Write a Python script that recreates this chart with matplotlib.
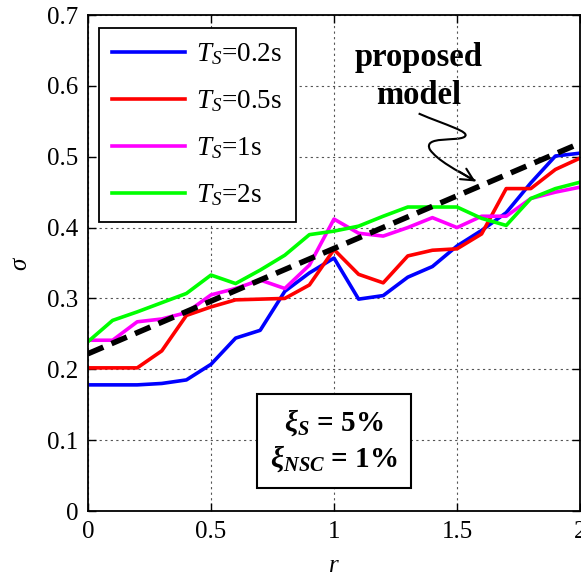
import numpy as np
import matplotlib.pyplot as plt
from matplotlib.path import Path
from matplotlib.patches import PathPatch

plt.rcParams['font.family'] = ['Liberation Serif', 'DejaVu Serif']
plt.rcParams['mathtext.fontset'] = 'custom'
plt.rcParams['mathtext.rm'] = 'Liberation Serif'
plt.rcParams['mathtext.it'] = 'Liberation Serif:italic'
plt.rcParams['mathtext.bf'] = 'Liberation Serif:bold'
plt.rcParams['mathtext.bfit'] = 'Liberation Serif:bold:italic'

# r values (0 to 2, step 0.1)
r = [0.0, 0.1, 0.2, 0.3, 0.4, 0.5, 0.6, 0.7, 0.8, 0.9, 1.0,
     1.1, 1.2, 1.3, 1.4, 1.5, 1.6, 1.7, 1.8, 1.9, 2.0]

sigma_02 = [0.178, 0.178, 0.178, 0.180, 0.185, 0.207, 0.244, 0.255, 0.310, 0.336, 0.357,
            0.299, 0.304, 0.330, 0.345, 0.374, 0.396, 0.421, 0.463, 0.501, 0.505]
sigma_05 = [0.202, 0.202, 0.202, 0.226, 0.276, 0.288, 0.298, 0.299, 0.300, 0.319, 0.369,
            0.334, 0.322, 0.360, 0.368, 0.370, 0.391, 0.455, 0.455, 0.482, 0.498]
sigma_1 = [0.241, 0.241, 0.267, 0.271, 0.280, 0.305, 0.314, 0.326, 0.314, 0.347, 0.412,
           0.392, 0.388, 0.400, 0.414, 0.400, 0.416, 0.416, 0.441, 0.450, 0.457]
sigma_2 = [0.239, 0.269, 0.281, 0.294, 0.307, 0.333, 0.321, 0.340, 0.361, 0.390, 0.395,
           0.402, 0.416, 0.429, 0.429, 0.429, 0.413, 0.403, 0.441, 0.455, 0.464]

# proposed model (straight line)
r_model = [0.0, 2.0]
sigma_model = [0.222, 0.519]

labels = [r'$T_S$=0.2s', r'$T_S$=0.5s', r'$T_S$=1s', r'$T_S$=2s']
colors = ['#0000FF', '#FF0000', '#FF00FF', '#00FF00']

fig = plt.figure(figsize=(5.81, 5.79), dpi=100)
ax = fig.add_axes([88 / 581, 68 / 579, 492 / 581, 496 / 579])

for s, lab, c in zip([sigma_02, sigma_05, sigma_1, sigma_2], labels, colors):
    ax.plot(r, s, color=c, lw=2.6, label=lab)
ax.plot(r_model, sigma_model, color='black', lw=4, ls=(0, (3, 1.6)))

ax.set_xlim(0, 2)
ax.set_ylim(0, 0.7)
ax.set_xticks([0, 0.5, 1, 1.5, 2])
ax.set_xticklabels(['0', '0.5', '1', '1.5', '2'])
ax.set_yticks(np.arange(0, 0.71, 0.1))
ax.set_yticklabels(['0', '0.1', '0.2', '0.3', '0.4', '0.5', '0.6', '0.7'])
ax.tick_params(direction='in', top=True, right=True, labelsize=18, length=6, width=1, pad=7)
ax.grid(True, ls=(0, (2, 3)), color='#555555', lw=0.8)
for sp in ax.spines.values():
    sp.set_linewidth(1.3)

ax.set_xlabel(r'$r$', fontsize=18, labelpad=9)
ax.set_ylabel(r'$\sigma$', fontsize=18, labelpad=11)

leg = ax.legend(loc='upper left', bbox_to_anchor=(0.022, 0.974), borderaxespad=0,
                fontsize=19.5, handlelength=2.7, handletextpad=0.4, labelspacing=0.78,
                fancybox=False, framealpha=1, edgecolor='black', borderpad=0.5)
leg.get_frame().set_linewidth(1.3)

ax.text(1.345, 0.613, 'proposed\nmodel', fontsize=23.5, fontweight='bold',
        ha='center', va='center', linespacing=1.3)

# squiggly pointer to the model line
verts = [(1.344, 0.561), (1.45, 0.545), (1.56, 0.535), (1.53, 0.528),
         (1.50, 0.521), (1.36, 0.530), (1.39, 0.510), (1.42, 0.495), (1.50, 0.480), (1.575, 0.466)]
codes = [Path.MOVETO, Path.CURVE4, Path.CURVE4, Path.CURVE4,
         Path.CURVE4, Path.CURVE4, Path.CURVE4, Path.CURVE4, Path.CURVE4, Path.CURVE4]
ax.add_patch(PathPatch(Path(verts, codes), fill=False, lw=1.5, color='black'))
ax.annotate('', xy=(1.585, 0.463), xytext=(1.50, 0.481),
            arrowprops=dict(arrowstyle='->', lw=1.5, color='black', mutation_scale=22))

ax.text(1.0, 0.099, r'$\mathbfit{\xi_S}$ = 5%' + '\n' + r'$\mathbfit{\xi_{NSC}}$ = 1%',
        fontsize=21, fontweight='bold', ha='center', va='center', linespacing=1.25,
        bbox=dict(boxstyle='square,pad=0.45', fc='white', ec='black', lw=1.5))

fig.savefig('out.png', dpi=100)
